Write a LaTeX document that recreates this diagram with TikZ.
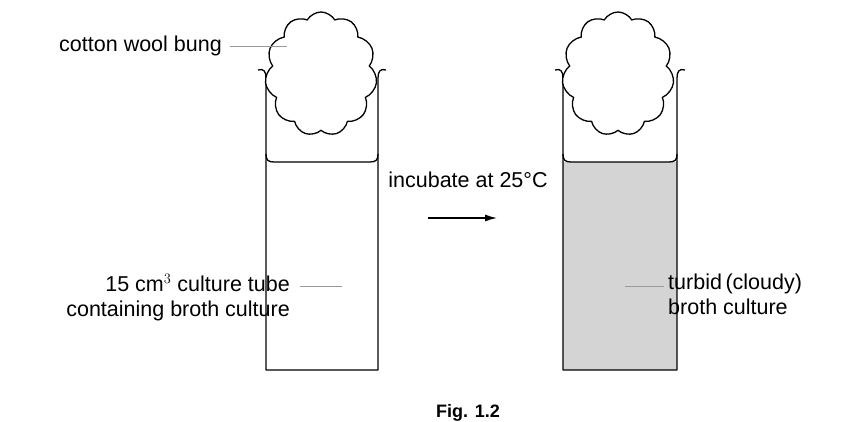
\documentclass[tikz,border=0pt]{standalone}
\usepackage{fontspec}
\setmainfont{Liberation Sans}
\usetikzlibrary{shapes.symbols,arrows.meta}
\begin{document}
\begin{tikzpicture}[x=1pt,y=-1pt,
  wall/.style={line width=1.3pt,line join=round},
  lbl/.style={font=\fontsize{21.5}{25}\selectfont,align=left,inner sep=0pt},
  lead/.style={draw=gray!80,line width=0.9pt},
  bung/.style={cloud,cloud puffs=11,cloud puff arc=120,draw,line width=1.3pt,fill=white,minimum width=112pt,minimum height=124pt,aspect=0.9}]
\useasboundingbox (0,0) rectangle (858,422);
\foreach \n/\L/\R/\f in {A/266/378/white,B/563/677/black!17}{
  \fill[\f] (\L,162) rectangle (\R,370);
  \draw[wall] (\L-8,70) .. controls (\L-2,68) and (\L,72) .. (\L,78) -- (\L,370) -- (\R,370) -- (\R,78) .. controls (\R,72) and (\R+2,68) .. (\R+8,70);
  \draw[wall] (\L,154) .. controls (\L,160) and (\L+2,162) .. (\L+8,162) -- (\R-8,162) .. controls (\R-2,162) and (\R,160) .. (\R,154);
  \node[bung] (bung\n) at (\L+55,74) {};
}
\node[lbl,anchor=east] (t1) at (222,46) {cotton wool bung};
\coordinate (c1) at (230,46);
\draw[lead] (c1) -- (287,46);
\node[lbl,anchor=north east,align=right] (t2) at (290,274) {15 cm$^{3}$ culture tube\\containing broth culture};
\coordinate (c2) at (300,286);
\draw[lead] (c2) -- (342,286);
\node[lbl,anchor=north west] (t3) at (668,274) {turbid\,(cloudy)\\broth culture};
\coordinate (c3) at (625,286);
\draw[lead] (c3) -- (664,286);
\node[lbl] (inc) at (468,180) {incubate at 25°C};
\coordinate (a1) at (428,218);
\coordinate (a2) at (497,218);
\draw[line width=1.3pt,-{Latex[length=12pt,width=7pt]}] (a1) -- (a2);
\node[font=\bfseries\fontsize{18}{21}\selectfont,anchor=north,inner sep=0pt] (fig) at (468,404) {Fig. 1.2};
\end{tikzpicture}
\end{document}
